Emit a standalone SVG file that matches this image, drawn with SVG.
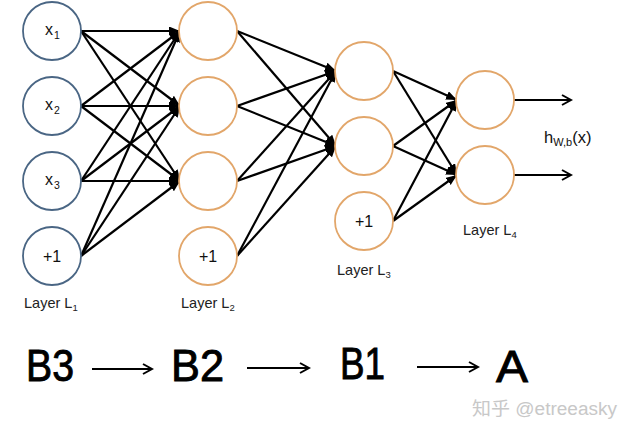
<svg xmlns="http://www.w3.org/2000/svg" width="634" height="437" viewBox="0 0 634 437">
<style>
.n1{fill:#fff;stroke:#4a6684;stroke-width:1.8}
.n2{fill:#fff;stroke:#e2a66a;stroke-width:1.8}
.c{stroke:#000;stroke-width:2.2;fill:none;marker-end:url(#ah)}
.o{stroke:#000;stroke-width:2;fill:none;marker-end:url(#oh)}
.t{font-family:"Liberation Sans",Arial,sans-serif;fill:#111}
.lbl{font-family:"Liberation Sans",Arial,sans-serif;font-size:14.5px;fill:#222}
.big{font-family:"Liberation Sans",Arial,sans-serif;font-size:44px;fill:#000;stroke:#000;stroke-width:0.9}
</style>
<defs>
<marker id="ah" markerUnits="userSpaceOnUse" markerWidth="12" markerHeight="10" refX="11" refY="4.5" orient="auto">
<path d="M0,0 L11,4.5 L0,9 Z" fill="#000"/>
</marker>
<marker id="oh" markerUnits="userSpaceOnUse" markerWidth="12" markerHeight="12" refX="10" refY="6" orient="auto">
<path d="M1,1 L10,6 L1,11" fill="none" stroke="#000" stroke-width="2"/>
</marker>
</defs>
<rect width="634" height="437" fill="#fff"/>
<g id="connectors">
<line class="c" x1="81" y1="31" x2="180" y2="31"/>
<line class="c" x1="81" y1="31" x2="180" y2="106"/>
<line class="c" x1="81" y1="31" x2="180" y2="181"/>
<line class="c" x1="81" y1="106" x2="180" y2="31"/>
<line class="c" x1="81" y1="106" x2="180" y2="106"/>
<line class="c" x1="81" y1="106" x2="180" y2="181"/>
<line class="c" x1="81" y1="181" x2="180" y2="31"/>
<line class="c" x1="81" y1="181" x2="180" y2="106"/>
<line class="c" x1="81" y1="181" x2="180" y2="181"/>
<line class="c" x1="81" y1="256" x2="180" y2="31"/>
<line class="c" x1="81" y1="256" x2="180" y2="106"/>
<line class="c" x1="81" y1="256" x2="180" y2="181"/>
<line class="c" x1="237" y1="31" x2="336" y2="71"/>
<line class="c" x1="237" y1="31" x2="336" y2="146"/>
<line class="c" x1="237" y1="106" x2="336" y2="71"/>
<line class="c" x1="237" y1="106" x2="336" y2="146"/>
<line class="c" x1="237" y1="181" x2="336" y2="71"/>
<line class="c" x1="237" y1="181" x2="336" y2="146"/>
<line class="c" x1="237" y1="256" x2="336" y2="71"/>
<line class="c" x1="237" y1="256" x2="336" y2="146"/>
<line class="c" x1="393" y1="71" x2="457" y2="100"/>
<line class="c" x1="393" y1="71" x2="457" y2="175"/>
<line class="c" x1="393" y1="146" x2="457" y2="100"/>
<line class="c" x1="393" y1="146" x2="457" y2="175"/>
<line class="c" x1="393" y1="221" x2="457" y2="100"/>
<line class="c" x1="393" y1="221" x2="457" y2="175"/>
<line class="o" x1="514" y1="100" x2="571" y2="100"/>
<line class="o" x1="514" y1="175" x2="571" y2="175"/>
</g>
<g id="x1"><circle class="n1" cx="52" cy="31" r="29"/><text class="t" x="45" y="35" font-size="16">x</text><text class="t" x="54" y="39" font-size="10.5">1</text></g>
<g id="x2"><circle class="n1" cx="52" cy="106" r="29"/><text class="t" x="45" y="110" font-size="16">x</text><text class="t" x="54" y="114" font-size="10.5">2</text></g>
<g id="x3"><circle class="n1" cx="52" cy="181" r="29"/><text class="t" x="45" y="185" font-size="16">x</text><text class="t" x="54" y="189" font-size="10.5">3</text></g>
<g id="b1"><circle class="n1" cx="52" cy="256" r="29"/><text class="t" x="52" y="262" font-size="16" text-anchor="middle">+1</text></g>
<g id="h21"><circle class="n2" cx="208" cy="31" r="29"/></g>
<g id="h22"><circle class="n2" cx="208" cy="106" r="29"/></g>
<g id="h23"><circle class="n2" cx="208" cy="181" r="29"/></g>
<g id="b2"><circle class="n2" cx="208" cy="256" r="29"/><text class="t" x="208" y="262" font-size="16" text-anchor="middle">+1</text></g>
<g id="h31"><circle class="n2" cx="364" cy="71" r="29"/></g>
<g id="h32"><circle class="n2" cx="364" cy="146" r="29"/></g>
<g id="b3"><circle class="n2" cx="364" cy="221" r="29"/><text class="t" x="364" y="227" font-size="16" text-anchor="middle">+1</text></g>
<g id="o1"><circle class="n2" cx="485" cy="100" r="29"/></g>
<g id="o2"><circle class="n2" cx="485" cy="175" r="29"/></g>
<g id="labels">
<text class="lbl" x="24" y="308">Layer L<tspan font-size="9.5" dy="3">1</tspan></text>
<text class="lbl" x="181" y="308">Layer L<tspan font-size="9.5" dy="3">2</tspan></text>
<text class="lbl" x="337" y="275">Layer L<tspan font-size="9.5" dy="3">3</tspan></text>
<text class="lbl" x="463" y="235">Layer L<tspan font-size="9.5" dy="3">4</tspan></text>
<text class="t" x="544" y="143" font-size="16.5">h<tspan font-size="11" dy="3">W,b</tspan><tspan dy="-3">(x)</tspan></text>
</g>
<g id="bottom">
<text class="big" x="26" y="381" textLength="48" lengthAdjust="spacingAndGlyphs">B3</text>
<text class="big" x="171" y="381" textLength="53" lengthAdjust="spacingAndGlyphs">B2</text>
<text class="big" x="340" y="379" textLength="45" lengthAdjust="spacingAndGlyphs">B1</text>
<text class="big" x="496" y="382" textLength="32" lengthAdjust="spacingAndGlyphs" stroke-width="0.3">A</text>
<line class="o" x1="92" y1="369" x2="152" y2="369"/>
<line class="o" x1="247" y1="368" x2="309" y2="368"/>
<line class="o" x1="417" y1="367" x2="478" y2="367"/>
</g>
<text x="472" y="415" font-family="Liberation Sans,Noto Sans CJK SC,sans-serif" font-size="18" fill="#c8c8c8" textLength="145" lengthAdjust="spacingAndGlyphs">知乎 @etreeasky</text>
</svg>
